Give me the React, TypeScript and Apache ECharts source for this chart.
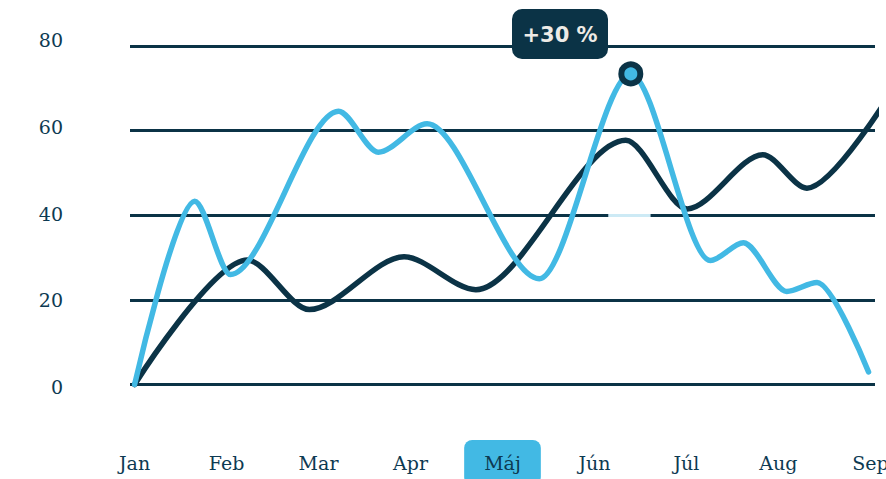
import { useEffect, useRef } from 'react';
import * as echarts from 'echarts';

const months = ['Jan', 'Feb', 'Mar', 'Apr', 'Máj', 'Jún', 'Júl', 'Aug', 'Sep'];
const monthPositions = [0, 1, 2, 3, 4, 5, 6, 7, 8];
const highlightMonth = 'Máj';
const yTicks = [0, 20, 40, 60, 80];

const lightX = [0, 0.652, 1.043, 2.217, 2.65, 3.18, 4.4, 5.395, 6.26, 6.62, 7.09, 7.42, 7.98];
const lightY = [0, 43.3, 26.0, 64.6, 54.9, 61.6, 25.0, 73.4, 29.3, 33.5, 22.0, 24.1, 2.95];
const lightPeakIndex = 7;

const darkX = [0, 1.225, 1.9, 2.93, 3.71, 5.34, 6.01, 6.83, 7.31, 8.25];
const darkY = [0, 29.4, 17.7, 30.2, 22.4, 57.7, 41.5, 54.3, 46.4, 69.9];
const darkHighlightRange = [5.15, 5.61];
const paleSegmentY = 40;

const tooltipText = '+30 %';

const DARK = '#0b3346';
const LIGHT = '#42b9e4';
const PALE = '#cdeaf5';
const TEXT = '#0d3a52';

export default function App() {
  const ref = useRef<HTMLDivElement>(null);
  useEffect(() => {
    document.body.style.margin = '0';
    const chart = echarts.init(ref.current!, null, { renderer: 'svg' });
    const labelFont = {
      fontSize: 19,
      fontFamily: 'DejaVu Serif',
      color: TEXT,
      lineHeight: 20,
      padding: [13, 20, 13, 20],
    };
    const option: any = {
      animation: false,
      grid: [
        { left: 130, right: 11, top: 46, bottom: 94.5, outerBoundsMode: 'none', containLabel: false },
        { left: 130, right: 11, top: 40, bottom: 92, outerBoundsMode: 'none', containLabel: false },
      ],
      xAxis: [
        {
          type: 'value',
          gridIndex: 0,
          min: -0.05,
          max: 8.05,
          axisLine: { show: false },
          axisTick: { show: false },
          splitLine: { show: false },
          axisLabel: {
            customValues: monthPositions,
            margin: 68,
            hideOverlap: false,
            formatter: (v: number) => {
              const m = months[Math.round(v)];
              return m === highlightMonth ? `{hl|${m}}` : `{n|${m}}`;
            },
            rich: {
              n: { ...labelFont },
              hl: { ...labelFont, backgroundColor: LIGHT, borderRadius: 8 },
            },
          },
        },
        { type: 'value', gridIndex: 1, show: false, min: 0, max: 1 },
      ],
      yAxis: [
        {
          type: 'value',
          gridIndex: 0,
          min: yTicks[0],
          max: yTicks[yTicks.length - 1],
          interval: 20,
          axisLabel: { show: false },
          axisLine: { show: false },
          axisTick: { show: false },
          splitLine: { show: true, lineStyle: { color: DARK, width: 3 } },
        },
        {
          type: 'value',
          gridIndex: 1,
          min: yTicks[0],
          max: yTicks[yTicks.length - 1],
          interval: 20,
          axisLine: { show: false },
          axisTick: { show: false },
          splitLine: { show: false },
          axisLabel: {
            margin: 67,
            align: 'right',
            fontSize: 19,
            fontFamily: 'DejaVu Serif',
            color: TEXT,
          },
        },
      ],
      visualMap: {
        show: false,
        type: 'piecewise',
        seriesIndex: 0,
        dimension: 0,
        pieces: [
          { lt: darkHighlightRange[0], color: DARK },
          { gte: darkHighlightRange[0], lte: darkHighlightRange[1], color: '#000000' },
          { gt: darkHighlightRange[1], color: DARK },
        ],
      },
      series: [
        {
          type: 'line',
          xAxisIndex: 0,
          yAxisIndex: 0,
          data: darkX.map((x, i) => [x, darkY[i]]),
          smooth: 0.3,
          smoothMonotone: 'x',
          symbol: 'none',
          clip: false,
          lineStyle: { color: DARK, width: 5.5, cap: 'round', join: 'round' },
          z: 3,
          markLine: {
            silent: true,
            symbol: ['none', 'none'],
            label: { show: false },
            lineStyle: { color: PALE, width: 3, type: 'solid' },
            data: [[{ coord: [darkHighlightRange[0], paleSegmentY] }, { coord: [darkHighlightRange[1], paleSegmentY] }]],
          },
        },
        {
          type: 'line',
          xAxisIndex: 0,
          yAxisIndex: 0,
          data: lightX.map((x, i) =>
            i === lightPeakIndex
              ? {
                  value: [x, lightY[i]],
                  symbol: 'circle',
                  symbolSize: 19,
                  itemStyle: { color: LIGHT, borderColor: DARK, borderWidth: 6 },
                }
              : { value: [x, lightY[i]], symbol: 'none' }
          ),
          smooth: 0.3,
          smoothMonotone: 'x',
          showSymbol: true,
          symbol: 'none',
          clip: false,
          lineStyle: { color: LIGHT, width: 5.5, cap: 'round', join: 'round' },
          z: 4,
        },
      ],
      graphic: [
        {
          type: 'group',
          z: 100,
          children: [
            {
              type: 'rect',
              shape: { x: 512, y: 9, width: 96, height: 50, r: 10 },
              style: { fill: DARK },
            },
            {
              type: 'text',
              x: 560,
              y: 35,
              style: {
                text: tooltipText,
                fill: '#eeebe6',
                fontSize: 21,
                fontWeight: 'bold',
                fontFamily: 'DejaVu Sans',
                align: 'center',
                verticalAlign: 'middle',
              },
            },
          ],
        },
      ],
    };
    chart.setOption(option);
    return () => chart.dispose();
  }, []);
  return <div ref={ref} style={{ width: 886, height: 479 }} />;
}
